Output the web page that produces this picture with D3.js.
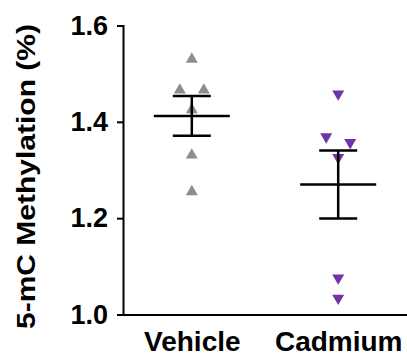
<!DOCTYPE html>
<html>
<head>
<meta charset="utf-8">
<script src="https://cdn.jsdelivr.net/npm/d3@7"></script>
<style>
  body { margin: 0; background: #fff; }
  svg { display: block; font-family: "Liberation Sans", Arial, sans-serif; }
</style>
</head>
<body>
<svg id="chart"></svg>
<script>
// data
const groups = ["Vehicle", "Cadmium"];
const vehicleValues = [1.530, 1.466, 1.466, 1.425, 1.331, 1.255];
const cadmiumValues = [1.458, 1.369, 1.357, 1.326, 1.076, 1.034];
// horizontal scatter of the points, in point widths
const vehicleJitter = [0, -1, 1, 0, 0, 0];
const cadmiumJitter = [0, -1, 1, 0, 0, 0];
const yTicks = [1.0, 1.2, 1.4, 1.6];

const W = 407, H = 355;
const axisX = 123, axisY = 314.5, topY = 25.5;

const svg = d3.select("#chart").attr("width", W).attr("height", H);

const x = d3.scalePoint().domain(groups).range([axisX, W]).padding(0.47);
const y = d3.scaleLinear().domain([1.0, 1.6]).range([axisY, topY]);

const series = [
  { name: "Vehicle", values: vehicleValues, jitter: vehicleJitter, color: "#8d8d8d", rot: 0 },
  { name: "Cadmium", values: cadmiumValues, jitter: cadmiumJitter, color: "#7232a8", rot: 180 }
];
series.forEach(s => {
  s.mean = d3.mean(s.values);
  s.sem = d3.deviation(s.values) / Math.sqrt(s.values.length);
});

const tri = d3.symbol().type(d3.symbolTriangle).size(62);
const jitterPx = 12;

// points
series.forEach(s => {
  svg.append("g").selectAll("path")
    .data(s.values)
    .join("path")
      .attr("d", tri)
      .attr("fill", s.color)
      .attr("transform", (d, i) =>
        `translate(${x(s.name) + s.jitter[i] * jitterPx},${y(d)}) rotate(${s.rot})`);
});

// mean and SEM
const mean = svg.append("g").attr("stroke", "#000").attr("stroke-width", 2.5);
series.forEach(s => {
  const cx = x(s.name);
  mean.append("line")
    .attr("x1", cx - 38).attr("x2", cx + 38)
    .attr("y1", y(s.mean)).attr("y2", y(s.mean));
  mean.append("line")
    .attr("x1", cx).attr("x2", cx)
    .attr("y1", y(s.mean + s.sem)).attr("y2", y(s.mean - s.sem));
  [s.mean + s.sem, s.mean - s.sem].forEach(v => {
    mean.append("line")
      .attr("x1", cx - 19).attr("x2", cx + 19)
      .attr("y1", y(v)).attr("y2", y(v));
  });
});

// axes
const yAxis = svg.append("g")
  .attr("transform", `translate(${axisX},0)`)
  .call(d3.axisLeft(y).tickValues(yTicks).tickFormat(d3.format(".1f"))
    .tickSize(6).tickSizeOuter(6).tickPadding(9));

const xAxis = svg.append("g")
  .attr("transform", `translate(0,${axisY})`)
  .call(d3.axisBottom(x).tickSize(0).tickSizeOuter(0).tickPadding(17));

[yAxis, xAxis].forEach(g => {
  g.select(".domain").attr("stroke", "#000").attr("stroke-width", 2);
  g.selectAll(".tick line").attr("stroke", "#000").attr("stroke-width", 2);
  g.selectAll(".tick text")
    .attr("fill", "#000")
    .attr("font-family", "'Liberation Sans', Arial, sans-serif")
    .attr("font-weight", "bold");
});
yAxis.selectAll(".tick text").attr("font-size", 27);
xAxis.selectAll(".tick text").attr("font-size", 28);

// y label
svg.append("text")
  .attr("transform", "rotate(-90)")
  .attr("x", -176.5)
  .attr("y", 35)
  .attr("text-anchor", "middle")
  .attr("font-size", 25)
  .attr("font-weight", "bold")
  .attr("textLength", 305)
  .attr("lengthAdjust", "spacingAndGlyphs")
  .text("5-mC Methylation (%)");
</script>
</body>
</html>
